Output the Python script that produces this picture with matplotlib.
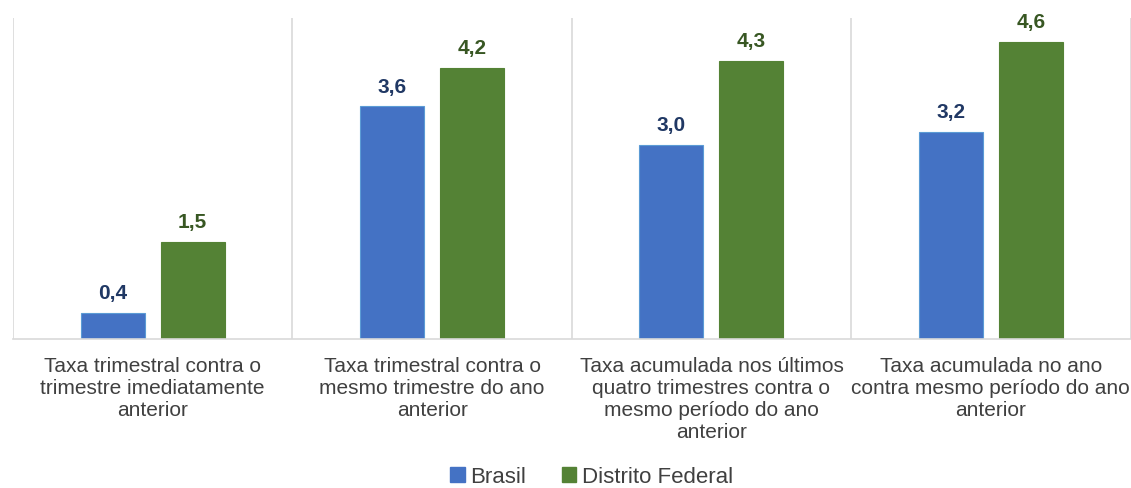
import matplotlib
matplotlib.use("Agg")
import matplotlib.pyplot as plt
import numpy as np
from matplotlib.patches import Patch

categories = [
    "Taxa trimestral contra o\ntrimestre imediatamente\nanterior",
    "Taxa trimestral contra o\nmesmo trimestre do ano\nanterior",
    "Taxa acumulada nos últimos\nquatro trimestres contra o\nmesmo período do ano\nanterior",
    "Taxa acumulada no ano\ncontra mesmo período do ano\nanterior",
]
series_names = ["Brasil", "Distrito Federal"]
brasil = [0.4, 3.6, 3.0, 3.2]
df = [1.5, 4.2, 4.3, 4.6]

plt.rcParams['font.family'] = ['Liberation Sans', 'DejaVu Sans']

fig = plt.figure(figsize=(11.31, 4.89), dpi=100)
ax = fig.add_axes([13/1131, 1-340/489, 1-13/1131-0.5/1131, (340-19)/489])

x = np.arange(len(categories))
w = 0.229
off = 0.143
blue = "#4472C4"
green = "#548235"
ax.bar(x - off, brasil, w, color=blue, edgecolor="#5B9BD5", linewidth=0.8)
ax.bar(x + off, df, w, color=green, edgecolor=green, linewidth=0.8)

for xi, v in zip(x - off, brasil):
    ax.text(xi, v + 0.17, f"{v:.1f}".replace(".", ","), ha="center", va="bottom",
            fontsize=15, fontweight="bold", color="#203864")
for xi, v in zip(x + off, df):
    ax.text(xi, v + 0.17, f"{v:.1f}".replace(".", ","), ha="center", va="bottom",
            fontsize=15, fontweight="bold", color="#385723")

ax.set_xlim(-0.5, len(categories) - 0.5)
ax.set_ylim(0, 4.97)
for s in ["top", "right", "left"]:
    ax.spines[s].set_visible(False)
ax.spines["bottom"].set_color("#D9D9D9")
ax.spines["bottom"].set_linewidth(1.2)
for b in np.arange(-0.5, len(categories) + 0.5, 1.0):
    ax.axvline(b, color="#D9D9D9", linewidth=1.2, zorder=0)
ax.set_yticks([])
ax.set_xticks(x)
ax.set_xticklabels(categories, fontsize=15, color="#404040", linespacing=1.2)
ax.tick_params(axis="x", length=0, pad=12)

handles = [Patch(color=blue), Patch(color=green)]
fig.legend(handles, series_names, loc="center", bbox_to_anchor=(0.523, 1-478/489),
           ncol=2, frameon=False, fontsize=16, handlelength=0.65, handleheight=0.65,
           handletextpad=0.25, columnspacing=1.6, labelcolor="#404040")

fig.savefig("out.png", dpi=100)
